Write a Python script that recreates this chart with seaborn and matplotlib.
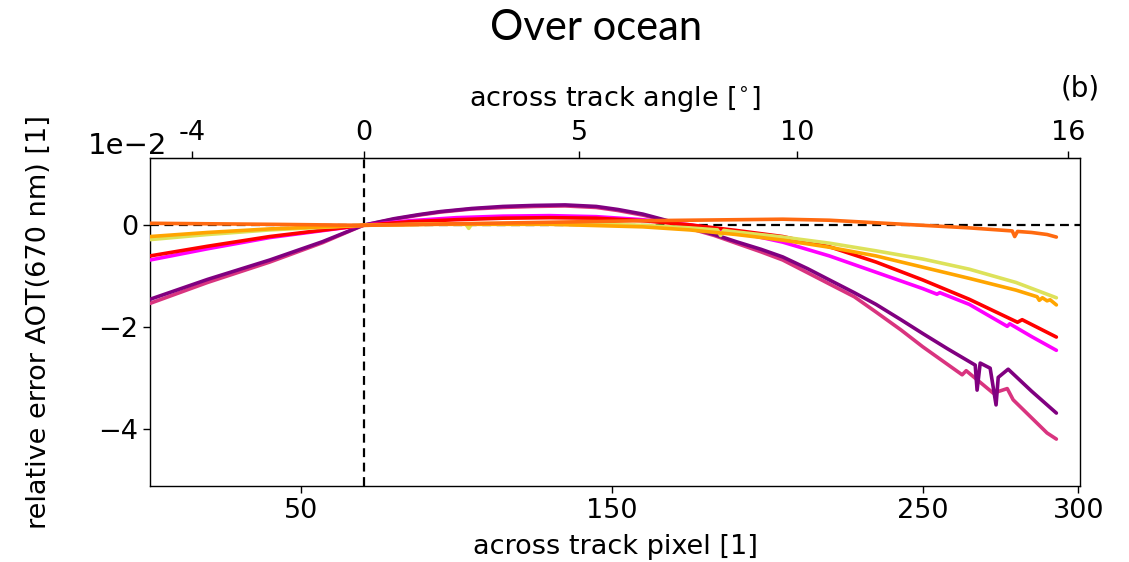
import matplotlib
matplotlib.use("Agg")
import matplotlib.pyplot as plt
import pandas as pd
import seaborn as sns
from matplotlib.ticker import MultipleLocator

# Relative AOT(670 nm) error (in units of 1e-2) versus across-track pixel,
# one curve per retrieval case.
case_names = ["c1", "c2", "c3", "c4", "c5", "c6", "c7"]
case_colors = ["#d9347f", "#800080", "#ff00ff", "#ff0000",
               "#dde25a", "#ffa500", "#ff6a10"]

c1_px = [1.5, 20, 40, 57, 70, 80, 88, 95, 105, 115, 125, 135, 145, 152, 160,
         168, 175, 183, 190, 198, 205, 213, 220, 228, 235, 243, 250, 262.7,
         264, 272.7, 277.2, 279.1, 290, 293]
c1_err = [-1.53, -1.12, -0.72, -0.34, 0.0, 0.12, 0.20, 0.26, 0.32, 0.35,
          0.37, 0.38, 0.35, 0.29, 0.20, 0.08, -0.06, -0.20, -0.35, -0.52,
          -0.68, -0.93, -1.15, -1.40, -1.70, -2.05, -2.38, -2.93, -2.85,
          -3.29, -3.20, -3.42, -4.07, -4.19]

c2_px = [1.5, 20, 40, 57, 70, 80, 88, 95, 105, 115, 125, 135, 145, 152, 160,
         168, 175, 183, 190, 198, 205, 213, 220, 228, 235, 243, 250, 258,
         266.9, 267.5, 268.5, 271.7, 273.6, 274.3, 277.5, 285, 293]
c2_err = [-1.45, -1.06, -0.68, -0.32, 0.0, 0.13, 0.21, 0.27, 0.33, 0.37,
          0.39, 0.40, 0.37, 0.31, 0.22, 0.09, -0.04, -0.18, -0.32, -0.47,
          -0.62, -0.85, -1.07, -1.32, -1.55, -1.85, -2.12, -2.42, -2.74,
          -3.23, -2.70, -2.80, -3.52, -2.98, -2.82, -3.25, -3.68]

c3_px = [1.5, 20, 40, 70, 85, 100, 115, 130, 145, 160, 175, 190, 205, 220,
         235, 250, 254.6, 255.5, 265, 277.2, 278, 285, 293]
c3_err = [-0.68, -0.46, -0.24, 0.0, 0.09, 0.15, 0.18, 0.19, 0.17, 0.11,
          0.01, -0.13, -0.33, -0.60, -0.92, -1.24, -1.35, -1.32, -1.55,
          -1.98, -1.93, -2.18, -2.45]

c4_px = [1.5, 20, 40, 70, 85, 100, 115, 130, 145, 160, 175, 190, 205, 220,
         235, 250, 265, 280.5, 282, 293]
c4_err = [-0.60, -0.41, -0.22, 0.0, 0.07, 0.11, 0.14, 0.15, 0.14, 0.09,
          0.01, -0.10, -0.22, -0.42, -0.72, -1.07, -1.45, -1.90, -1.85,
          -2.19]

c5_px = [1.5, 20, 40, 70, 95, 103, 104, 105, 130, 160, 175, 184, 185, 186,
         190, 205, 220, 235, 250, 265, 280, 293]
c5_err = [-0.28, -0.18, -0.09, 0.0, 0.03, 0.03, -0.06, 0.03, 0.04, 0.0,
          -0.05, -0.09, -0.20, -0.10, -0.13, -0.23, -0.35, -0.50, -0.66,
          -0.86, -1.12, -1.42]

c6_px = [1.5, 20, 40, 70, 95, 130, 160, 175, 190, 205, 220, 235, 250, 265,
         280, 286.8, 287.5, 288.5, 290, 291, 293]
c6_err = [-0.22, -0.14, -0.07, 0.0, 0.02, 0.02, -0.03, -0.09, -0.18, -0.29,
          -0.43, -0.60, -0.82, -1.04, -1.27, -1.40, -1.47, -1.42, -1.48,
          -1.46, -1.56]

c7_px = [1.5, 40, 70, 100, 130, 160, 190, 205, 220, 235, 250, 265, 278.8,
         279.6, 280.5, 285, 290, 293]
c7_err = [0.04, 0.02, 0.0, 0.03, 0.06, 0.09, 0.11, 0.12, 0.10, 0.05, 0.0,
          -0.05, -0.11, -0.22, -0.12, -0.14, -0.18, -0.23]

# Secondary (top) axis: across-track angle ticks at their pixel positions
angle_tick_px = [15.0, 70.3, 139.5, 209.5, 296.8]
angle_tick_labels = ["-4", "0", "5", "10", "16"]
pixel_ticks = [50, 150, 250, 300]
nadir_px = 70.3

series_px = [c1_px, c2_px, c3_px, c4_px, c5_px, c6_px, c7_px]
series_err = [c1_err, c2_err, c3_err, c4_err, c5_err, c6_err, c7_err]
frames = []
for name, px, err in zip(case_names, series_px, series_err):
    frames.append(pd.DataFrame({"pixel": px,
                                "err": [v * 1e-2 for v in err],
                                "case": name}))
df = pd.concat(frames, ignore_index=True)

sns.set_style("ticks")
plt.rcParams["font.family"] = ["DejaVu Sans"]
plt.rcParams["axes.unicode_minus"] = True
for key in ["text.color", "axes.labelcolor", "xtick.color", "ytick.color",
            "axes.edgecolor"]:
    plt.rcParams[key] = "black"

fig = plt.figure(figsize=(11.29, 5.62), dpi=100)
ax = fig.add_axes([0.1329, 0.1352, 0.8237, 0.5837])

ax.axhline(0, color="black", lw=1.6, ls=(0, (4, 2.5)), zorder=1)
ax.axvline(nadir_px, color="black", lw=1.6, ls=(0, (4, 2.5)), zorder=1)

sns.lineplot(data=df, x="pixel", y="err", hue="case",
             hue_order=case_names,
             palette=dict(zip(case_names, case_colors)),
             estimator=None, sort=False, lw=2.6, legend=False, ax=ax,
             zorder=3)

ax.set_xlim(1.5, 300.6)
ax.set_ylim(-0.0511, 0.0132)
ax.yaxis.set_major_locator(MultipleLocator(0.02))
ax.set_xticks(pixel_ticks)
ax.set_xticklabels([str(t) for t in pixel_ticks])

fs = 19.5
ax.tick_params(axis="both", labelsize=fs, length=5, width=1.0,
               direction="out", colors="black")
ax.set_xlabel("across track pixel [1]", fontsize=fs, labelpad=7)
ax.set_ylabel("relative error AOT(670 nm) [1]", fontsize=fs)
ax.yaxis.set_label_coords(-0.105, 0.5)

ax.ticklabel_format(axis="y", style="sci", scilimits=(0, 0))
off = ax.yaxis.get_offset_text()
off.set_fontsize(21)
off.set_horizontalalignment("right")
off.set_x(0.018)

for sp in ax.spines.values():
    sp.set_color("black")
    sp.set_linewidth(1.0)

top = ax.secondary_xaxis("top")
top.set_xticks(angle_tick_px)
top.set_xticklabels(angle_tick_labels)
top.tick_params(labelsize=fs, length=5, width=1.0, direction="out",
                colors="black")
top.set_xlabel("across track angle [$^{\\circ}$]", fontsize=fs, labelpad=10)

fig.text(0.528, 0.950, "Over ocean", ha="center", va="center",
         fontsize=30, family=["Lato", "DejaVu Sans"])
fig.text(0.974, 0.843, "(b)", ha="right", va="center", fontsize=20)

fig.savefig("out.png", dpi=100, facecolor="white")
